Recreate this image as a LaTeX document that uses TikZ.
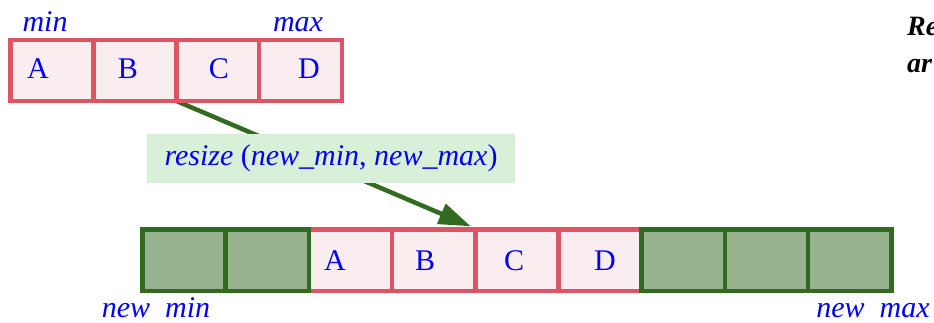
\documentclass[tikz,border=0pt]{standalone}
\usepackage{fontspec}
\setmainfont{Liberation Serif}
\usetikzlibrary{arrows.meta}
\definecolor{pinkfill}{RGB}{250,237,240}
\definecolor{pinkline}{RGB}{221,85,101}
\definecolor{grfill}{RGB}{152,179,143}
\definecolor{grline}{RGB}{50,106,32}
\definecolor{lblfill}{RGB}{216,240,216}
\definecolor{txtblue}{RGB}{0,0,255}
\tikzset{
  pcell/.style={draw=pinkline, fill=pinkfill, line width=4.5pt, minimum width=82.9pt, minimum height=61pt, inner sep=0pt},
  bpcell/.style={draw=pinkline, fill=pinkfill, line width=4.5pt, minimum width=83.2pt, minimum height=61.5pt, inner sep=0pt},
  gcell/.style={draw=grline, fill=grfill, line width=4.5pt, minimum width=83.2pt, minimum height=61.5pt, inner sep=0pt},
  txt/.style={text=txtblue, anchor=base, inner sep=0pt, font=\fontsize{30}{34}\selectfont},
  itxt/.style={txt, font=\fontsize{30}{34}\selectfont\itshape},
  lbl/.style={fill=lblfill, minimum width=368pt, minimum height=49pt, inner sep=0pt, text=txtblue, font=\fontsize{30}{34}\selectfont},
  conn/.style={draw=grline, line width=4.5pt, shorten >=2.5pt, -{Triangle[length=32pt,width=21pt]}},
  side/.style={anchor=base west, inner sep=0pt, font=\fontsize{28}{32}\selectfont\bfseries\itshape}
}
\begin{document}
\begin{tikzpicture}[x=1pt,y=-1pt]
\useasboundingbox (0,0) rectangle (934,322);
% bottom array
\node[bpcell] (b3) at (350.5,260.3) {};
\node[bpcell] (b4) at (433.7,260.3) {};
\node[bpcell] (b5) at (516.9,260.3) {};
\node[bpcell] (b6) at (600.1,260.3) {};
\node[gcell] (b1) at (184.1,260.3) {};
\node[gcell] (b2) at (267.3,260.3) {};
\node[gcell] (b7) at (683.3,260.3) {};
\node[gcell] (b8) at (766.5,260.3) {};
\node[gcell] (b9) at (849.7,260.3) {};
% connector
\coordinate (start) at (176.5,101);
\draw[conn] (start) -- (b5.north west);
% top array
\node[pcell] (t1) at (51.95,70.5) {};
\node[pcell] (t2) at (134.85,70.5) {};
\node[pcell] (t3) at (217.75,70.5) {};
\node[pcell] (t4) at (300.65,70.5) {};
% label
\node[lbl] (resize) at (331,158.5) {\textit{resize} (\textit{new\_min}, \textit{new\_max})};
% top texts
\node[itxt] (min) at (45,31) {min};
\node[itxt] (max) at (298,31) {max};
\node[txt] (ta) at (38,78) {A};
\node[txt] (tb) at (128,78) {B};
\node[txt] (tc) at (219,78) {C};
\node[txt] (td) at (309,78) {D};
% bottom texts
\node[txt] (ba) at (335,270) {A};
\node[txt] (bb) at (425,270) {B};
\node[txt] (bc) at (514,270) {C};
\node[txt] (bd) at (605,270) {D};
\node[itxt] (nmin) at (156,317.5) {new\raisebox{-4pt}{\_}min};
\node[itxt] (nmax) at (873,317.5) {new\raisebox{-4pt}{\_}max};
% side text
\node[side] (re) at (907,35) {Re};
\node[side] (ar) at (907,72) {ar};
\end{tikzpicture}
\end{document}
